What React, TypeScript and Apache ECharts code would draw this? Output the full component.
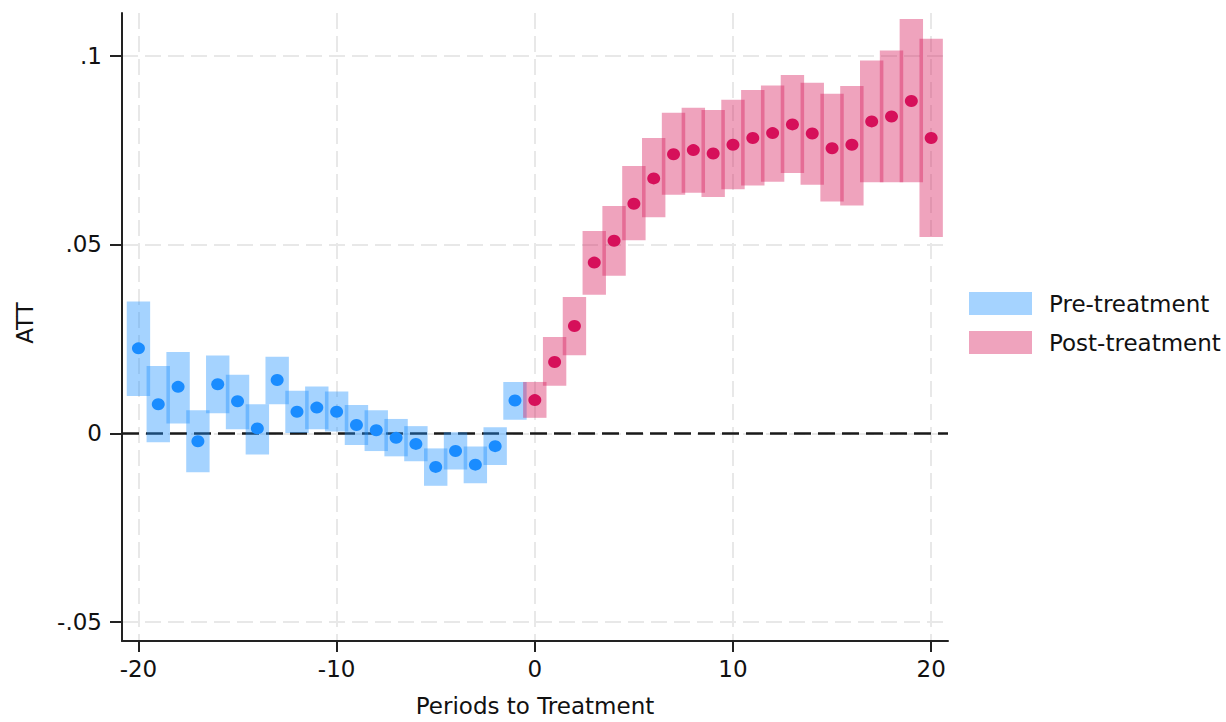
import React, { useEffect, useRef } from "react";
import * as echarts from "echarts";

const prePeriods = [-20, -19, -18, -17, -16, -15, -14, -13, -12, -11, -10, -9, -8, -7, -6, -5, -4, -3, -2, -1];
const prePoint = [0.0225, 0.0077, 0.0123, -0.0021, 0.013, 0.0085, 0.0013, 0.0141, 0.0057, 0.0068, 0.0057, 0.0022, 0.0008, -0.0012, -0.0028, -0.0089, -0.0047, -0.0083, -0.0034, 0.0087];
const preLow = [0.0099, -0.0024, 0.0026, -0.0103, 0.0053, 0.0011, -0.0056, 0.0077, 0.0001, 0.0011, 0.0005, -0.0031, -0.0047, -0.0061, -0.0074, -0.0139, -0.0096, -0.0132, -0.0084, 0.0036];
const preHigh = [0.0349, 0.0178, 0.0215, 0.0061, 0.0206, 0.0155, 0.0077, 0.0203, 0.0113, 0.0124, 0.0111, 0.0075, 0.0061, 0.0038, 0.0019, -0.004, 0.0003, -0.0035, 0.0016, 0.0136];

const postPeriods = [0, 1, 2, 3, 4, 5, 6, 7, 8, 9, 10, 11, 12, 13, 14, 15, 16, 17, 18, 19, 20];
const postPoint = [0.0088, 0.0189, 0.0284, 0.0452, 0.051, 0.0608, 0.0675, 0.0739, 0.075, 0.0741, 0.0764, 0.0782, 0.0795, 0.0818, 0.0794, 0.0755, 0.0764, 0.0826, 0.0839, 0.088, 0.0782];
const postLow = [0.0041, 0.0126, 0.0207, 0.0367, 0.0417, 0.0511, 0.0572, 0.0632, 0.0637, 0.0626, 0.0646, 0.0656, 0.0666, 0.0689, 0.0658, 0.0614, 0.0603, 0.0665, 0.0665, 0.0665, 0.052];
const postHigh = [0.0136, 0.0255, 0.0361, 0.0536, 0.0602, 0.0708, 0.0782, 0.0849, 0.0862, 0.0856, 0.0883, 0.0909, 0.0921, 0.0949, 0.0928, 0.0899, 0.092, 0.0987, 0.1014, 0.1097, 0.1045];

const xTicks = [-20, -10, 0, 10, 20];
const yTicks = [-0.05, 0, 0.05, 0.1];
const yTickLabels = ["-.05", "0", ".05", ".1"];

const FONT = "'DejaVu Sans', 'Liberation Sans', Arial, sans-serif";
const FS = 23;
const BAR_W = 1.18;
const PRE_FILL = "rgba(30,144,255,0.4)";
const POST_FILL = "rgba(215,25,90,0.4)";
const PRE_DOT = "#1a8cff";
const POST_DOT = "#d6105a";

function rectRender(fill: string) {
  return (params: any, api: any) => {
    const x = api.value(0);
    const lo = api.value(1);
    const hi = api.value(2);
    const p1 = api.coord([x - BAR_W / 2, hi]);
    const p2 = api.coord([x + BAR_W / 2, lo]);
    return {
      type: "rect",
      shape: { x: p1[0], y: p1[1], width: p2[0] - p1[0], height: p2[1] - p1[1] },
      style: { fill },
    };
  };
}

export default function App() {
  const ref = useRef<HTMLDivElement>(null);
  useEffect(() => {
    if (!ref.current) return;
    const chart = echarts.init(ref.current, null, { renderer: "svg" });
    const preBars = prePeriods.map((k, i) => [k, preLow[i], preHigh[i]]);
    const postBars = postPeriods.map((k, i) => [k, postLow[i], postHigh[i]]);
    const prePts = prePeriods.map((k, i) => [k, prePoint[i]]);
    const postPts = postPeriods.map((k, i) => [k, postPoint[i]]);
    const gridStyle = { color: "#e8e8e8", width: 2, type: [16, 7] as any };
    chart.setOption({
      animation: false,
      backgroundColor: "#ffffff",
      textStyle: { fontFamily: FONT },
      grid: { left: 122, right: 278, top: 13, bottom: 77, containLabel: false },
      legend: {
        orient: "vertical",
        left: 969,
        top: 292,
        padding: 0,
        itemWidth: 63,
        itemHeight: 23,
        itemGap: 16,
        icon: "rect",
        data: ["Pre-treatment", "Post-treatment"],
        textStyle: { fontFamily: FONT, fontSize: FS, color: "#111", padding: [0, 0, 0, 12] },
      },
      xAxis: {
        type: "value",
        min: -20.83,
        max: 20.85,
        name: "Periods to Treatment",
        nameLocation: "middle",
        nameGap: 53,
        nameTextStyle: { fontFamily: FONT, fontSize: FS, color: "#111" },
        axisLine: { show: true, onZero: false, lineStyle: { color: "#222", width: 2 } },
        axisTick: { show: true, length: 11, customValues: xTicks, lineStyle: { color: "#222", width: 2 } },
        axisLabel: {
          customValues: xTicks,
          margin: 16,
          fontFamily: FONT,
          fontSize: FS,
          color: "#111",
          formatter: (v: number) => String(v),
        },
        splitLine: { show: true, lineStyle: gridStyle },
      },
      yAxis: {
        type: "value",
        min: -0.055,
        max: 0.1113,
        name: "ATT",
        nameLocation: "middle",
        nameGap: 86,
        nameRotate: 90,
        nameTextStyle: { fontFamily: FONT, fontSize: FS, color: "#111", padding: [0, 0, 0, 8] },
        axisLine: { show: true, onZero: false, lineStyle: { color: "#222", width: 2 } },
        axisTick: { show: true, length: 12, customValues: yTicks, lineStyle: { color: "#222", width: 2 } },
        axisLabel: {
          customValues: yTicks,
          margin: 20,
          fontFamily: FONT,
          fontSize: FS,
          color: "#111",
          formatter: (v: number) => {
            const idx = yTicks.findIndex((t) => Math.abs(t - v) < 1e-9);
            return idx >= 0 ? yTickLabels[idx] : "";
          },
        },
        splitLine: { show: true, lineStyle: gridStyle },
      },
      series: [
        {
          name: "Pre-treatment",
          type: "custom",
          renderItem: rectRender(PRE_FILL),
          itemStyle: { color: PRE_FILL },
          encode: { x: 0, y: [1, 2] },
          data: preBars,
          z: 2,
        },
        {
          name: "Post-treatment",
          type: "custom",
          renderItem: rectRender(POST_FILL),
          itemStyle: { color: POST_FILL },
          encode: { x: 0, y: [1, 2] },
          data: postBars,
          z: 2,
          markLine: {
            silent: true,
            symbol: "none",
            label: { show: false },
            lineStyle: { color: "#1a1a1a", width: 2.5, type: [17, 7] as any },
            data: [{ yAxis: 0 }],
            z: 1,
          },
        },
        {
          name: "pre-est",
          type: "scatter",
          symbol: "circle",
          symbolSize: [13, 12],
          itemStyle: { color: PRE_DOT, opacity: 1 },
          data: prePts,
          z: 5,
        },
        {
          name: "post-est",
          type: "scatter",
          symbol: "circle",
          symbolSize: [13, 12],
          itemStyle: { color: POST_DOT, opacity: 1 },
          data: postPts,
          z: 5,
        },
      ],
    });
    return () => chart.dispose();
  }, []);
  return <div ref={ref} style={{ width: 1226, height: 722, position: "absolute", left: 0, top: 0 }} />;
}
